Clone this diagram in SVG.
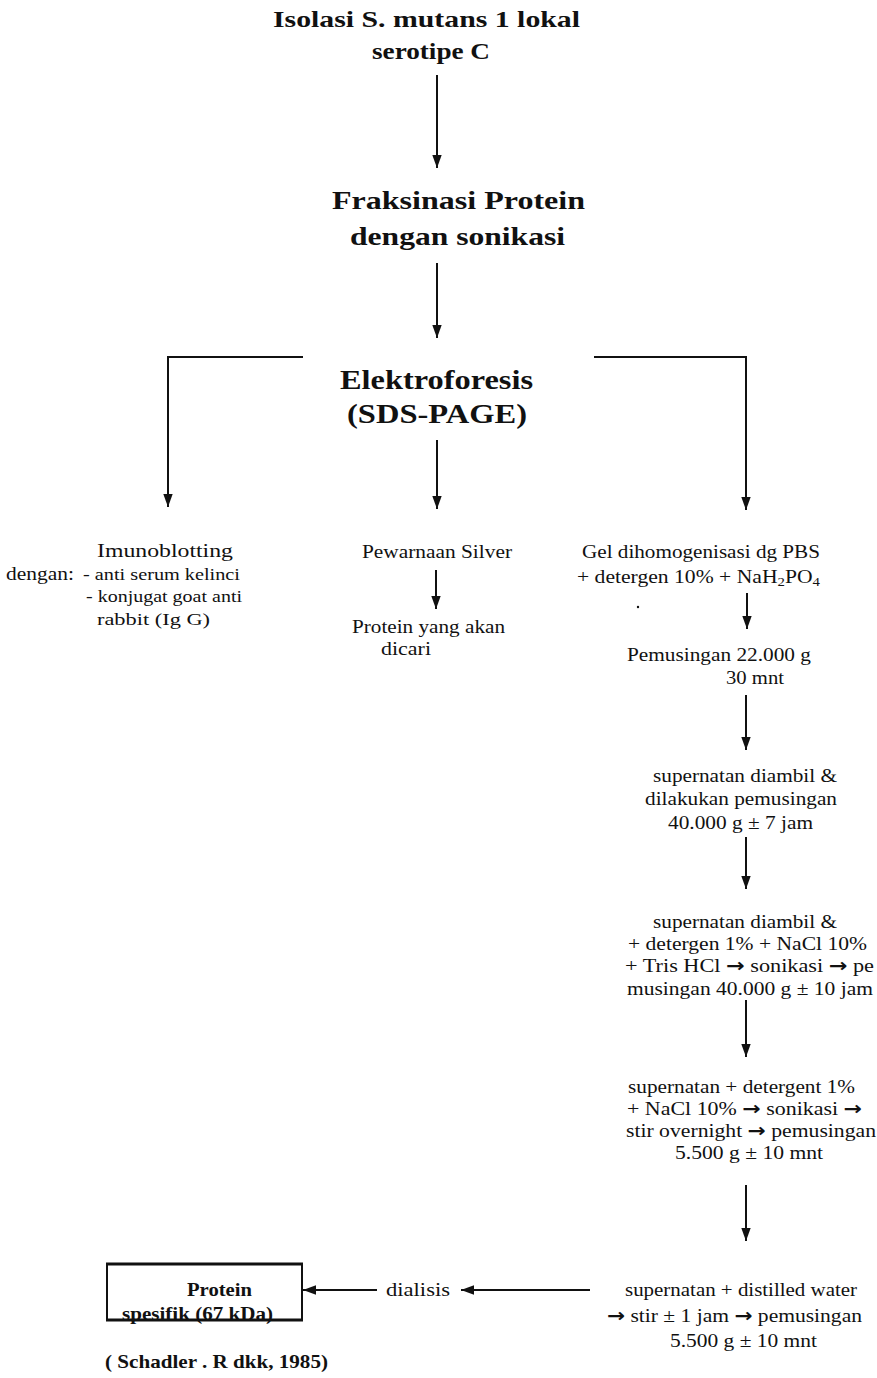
<svg xmlns="http://www.w3.org/2000/svg" width="877" height="1378" viewBox="0 0 877 1378">
<defs>
<marker id="ah" markerWidth="13" markerHeight="18" refX="18" refY="6.5" orient="auto" markerUnits="userSpaceOnUse" viewBox="0 0 18 13">
<path d="M0,0 L18,6.5 L0,13 Z" fill="#111"/>
</marker>
</defs>
<style>
.t{font-family:"Liberation Serif","Times New Roman",serif;fill:#111}
.h{font-weight:bold}
.s{font-size:19px}
.r{font-family:"DejaVu Sans",sans-serif;font-weight:bold}
.c{stroke:#111;stroke-width:2;fill:none}
.a{stroke:#111;stroke-width:2;fill:none;marker-end:url(#ah)}
</style>
<rect width="877" height="1378" fill="#fff"/>
<g id="n-isolasi">
<text class="t h" x="273" y="27" font-size="24" textLength="307" lengthAdjust="spacingAndGlyphs">Isolasi S. mutans 1 lokal</text>
<text class="t h" x="372" y="59" font-size="24" textLength="118" lengthAdjust="spacingAndGlyphs">serotipe C</text>
</g>
<g id="n-fraksinasi">
<text class="t h" x="332" y="209" font-size="26" textLength="253" lengthAdjust="spacingAndGlyphs">Fraksinasi Protein</text>
<text class="t h" x="350" y="245" font-size="26" textLength="215" lengthAdjust="spacingAndGlyphs">dengan sonikasi</text>
</g>
<g id="n-elektroforesis">
<text class="t h" x="340" y="389" font-size="28" textLength="193" lengthAdjust="spacingAndGlyphs">Elektroforesis</text>
<text class="t h" x="347" y="423" font-size="28" textLength="180" lengthAdjust="spacingAndGlyphs">(SDS-PAGE)</text>
</g>
<g id="n-imunoblotting">
<text class="t" x="97" y="557" font-size="19" textLength="136" lengthAdjust="spacingAndGlyphs">Imunoblotting</text>
<text class="t" x="6" y="580" font-size="18" textLength="68" lengthAdjust="spacingAndGlyphs">dengan:</text>
<text class="t" x="83" y="580" font-size="17" textLength="157" lengthAdjust="spacingAndGlyphs">- anti serum kelinci</text>
<text class="t" x="86" y="602" font-size="17" textLength="156" lengthAdjust="spacingAndGlyphs">- konjugat goat anti</text>
<text class="t" x="97" y="625" font-size="17" textLength="113" lengthAdjust="spacingAndGlyphs">rabbit (Ig G)</text>
</g>
<g id="n-pewarnaan">
<text class="t s" x="362" y="558" textLength="150" lengthAdjust="spacingAndGlyphs">Pewarnaan Silver</text>
</g>
<g id="n-protein-dicari">
<text class="t s" x="352" y="633" textLength="153" lengthAdjust="spacingAndGlyphs">Protein yang akan</text>
<text class="t s" x="381" y="655" textLength="50" lengthAdjust="spacingAndGlyphs">dicari</text>
</g>
<g id="n-gel">
<text class="t s" x="582" y="558" textLength="238" lengthAdjust="spacingAndGlyphs">Gel dihomogenisasi dg PBS</text>
<text class="t s" x="577" y="583" textLength="243" lengthAdjust="spacingAndGlyphs">+ detergen 10% + NaH<tspan font-size="13" dy="3">2</tspan><tspan dy="-3">PO</tspan><tspan font-size="13" dy="3">4</tspan></text>
<circle cx="638" cy="607" r="1.2" fill="#111"/>
</g>
<g id="n-pemusingan1">
<text class="t s" x="627" y="661" textLength="184" lengthAdjust="spacingAndGlyphs">Pemusingan 22.000 g</text>
<text class="t s" x="726" y="684" textLength="58" lengthAdjust="spacingAndGlyphs">30 mnt</text>
</g>
<g id="n-supernatan1">
<text class="t s" x="653" y="782" textLength="184" lengthAdjust="spacingAndGlyphs">supernatan diambil &amp;</text>
<text class="t s" x="645" y="805" textLength="192" lengthAdjust="spacingAndGlyphs">dilakukan pemusingan</text>
<text class="t s" x="668" y="829" textLength="145" lengthAdjust="spacingAndGlyphs">40.000 g ± 7 jam</text>
</g>
<g id="n-supernatan2">
<text class="t s" x="653" y="928" textLength="184" lengthAdjust="spacingAndGlyphs">supernatan diambil &amp;</text>
<text class="t s" x="628" y="950" textLength="239" lengthAdjust="spacingAndGlyphs">+ detergen 1% + NaCl 10%</text>
<text class="t s" x="625" y="972" textLength="249" lengthAdjust="spacingAndGlyphs">+ Tris HCl <tspan class="r">→</tspan> sonikasi <tspan class="r">→</tspan> pe</text>
<text class="t s" x="627" y="995" textLength="246" lengthAdjust="spacingAndGlyphs">musingan 40.000 g ± 10 jam</text>
</g>
<g id="n-supernatan3">
<text class="t s" x="628" y="1093" textLength="227" lengthAdjust="spacingAndGlyphs">supernatan + detergent 1%</text>
<text class="t s" x="627" y="1115" textLength="235" lengthAdjust="spacingAndGlyphs">+ NaCl 10% <tspan class="r">→</tspan> sonikasi <tspan class="r">→</tspan></text>
<text class="t s" x="626" y="1137" textLength="250" lengthAdjust="spacingAndGlyphs">stir overnight <tspan class="r">→</tspan> pemusingan</text>
<text class="t s" x="675" y="1159" textLength="148" lengthAdjust="spacingAndGlyphs">5.500 g ± 10 mnt</text>
</g>
<g id="n-supernatan4">
<text class="t s" x="625" y="1296" textLength="232" lengthAdjust="spacingAndGlyphs">supernatan + distilled water</text>
<text class="t s" x="607" y="1322" textLength="255" lengthAdjust="spacingAndGlyphs"><tspan class="r">→</tspan> stir ± 1 jam <tspan class="r">→</tspan> pemusingan</text>
<text class="t s" x="670" y="1347" textLength="147" lengthAdjust="spacingAndGlyphs">5.500 g ± 10 mnt</text>
</g>
<g id="n-dialisis">
<text class="t s" x="386" y="1296" textLength="64" lengthAdjust="spacingAndGlyphs">dialisis</text>
</g>
<g id="n-protein-spesifik">
<text class="t h" x="187" y="1296" font-size="18" textLength="65" lengthAdjust="spacingAndGlyphs">Protein</text>
<text class="t h" x="122" y="1320" font-size="18" textLength="151" lengthAdjust="spacingAndGlyphs">spesifik (67 kDa)</text>
<line x1="107" y1="1264" x2="107" y2="1321" stroke="#111" stroke-width="2"/>
<line x1="302" y1="1264" x2="302" y2="1321" stroke="#111" stroke-width="2"/>
<line x1="106" y1="1264" x2="303" y2="1264" stroke="#111" stroke-width="3"/>
<line x1="106" y1="1320" x2="303" y2="1320" stroke="#111" stroke-width="3"/>
</g>
<g id="n-sumber">
<text class="t h" x="105" y="1368" font-size="19" textLength="223" lengthAdjust="spacingAndGlyphs">( Schadler . R dkk, 1985)</text>
</g>
<g id="connectors">
<line class="a" x1="437" y1="75" x2="437" y2="168"/>
<line class="a" x1="437" y1="263" x2="437" y2="338"/>
<polyline class="a" points="303,357 168,357 168,507"/>
<line class="a" x1="437" y1="440" x2="437" y2="509"/>
<polyline class="a" points="594,357 746,357 746,510"/>
<line class="a" x1="436" y1="570" x2="436" y2="609"/>
<line class="a" x1="747" y1="593" x2="747" y2="629"/>
<line class="a" x1="746" y1="695" x2="746" y2="750"/>
<line class="a" x1="746" y1="837" x2="746" y2="889"/>
<line class="a" x1="746" y1="1000" x2="746" y2="1057"/>
<line class="a" x1="746" y1="1185" x2="746" y2="1241"/>
<line class="a" x1="590" y1="1290" x2="461" y2="1290"/>
<line class="a" x1="377" y1="1290" x2="303" y2="1290"/>
</g>
</svg>
